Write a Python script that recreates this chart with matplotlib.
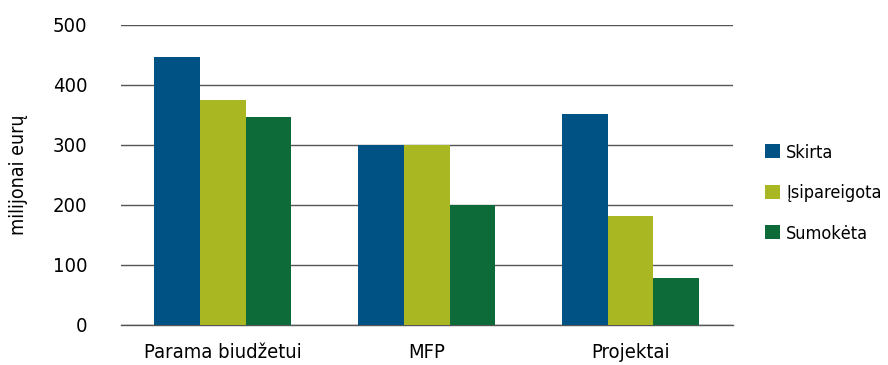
import matplotlib.pyplot as plt
import numpy as np

categories = ['Parama biudžetui', 'MFP', 'Projektai']
series_names = ['Skirta', 'Įsipareigota', 'Sumokėta']
skirta = [447, 300, 352]
isipareigota = [375, 300, 182]
sumoketa = [347, 200, 78]
colors = ['#005284', '#a9b723', '#0d6b39']

plt.rcParams['font.family'] = ['DejaVu Sans']
plt.rcParams['font.stretch'] = 'condensed'

fig = plt.figure(figsize=(8.88, 3.65), dpi=100)
ax = fig.add_axes([0.136, 0.1096, 0.689, 0.822])

x = np.arange(len(categories))
w = 0.224
for i, vals in enumerate([skirta, isipareigota, sumoketa]):
    ax.bar(x + (i - 1) * w, vals, width=w, color=colors[i], label=series_names[i], zorder=3)

ax.set_xlim(-0.5, 2.5)
ax.set_ylim(0, 500)
ax.set_yticks([0, 100, 200, 300, 400, 500])
ax.yaxis.grid(True, color='#555555', linewidth=1.0, zorder=0)
ax.set_axisbelow(True)
for s in ['top', 'right', 'left']:
    ax.spines[s].set_visible(False)
ax.spines['bottom'].set_color('#555555')
ax.spines['bottom'].set_linewidth(1.0)
ax.set_xticks(x)
ax.set_xticklabels(categories, fontsize=14.5)
ax.tick_params(axis='y', length=0, pad=24, labelsize=14.5)
ax.tick_params(axis='x', length=0, pad=13)
ax.set_ylabel('milijonai eurų', fontsize=14)
ax.yaxis.set_label_coords(-0.152, 0.5)

fig.legend(loc='center left', bbox_to_anchor=(0.862, 0.471), frameon=False,
           fontsize=13, handlelength=0.8, handleheight=0.8, handletextpad=0.35,
           labelspacing=1.25, borderpad=0, borderaxespad=0)

fig.savefig('out.png', dpi=100)
